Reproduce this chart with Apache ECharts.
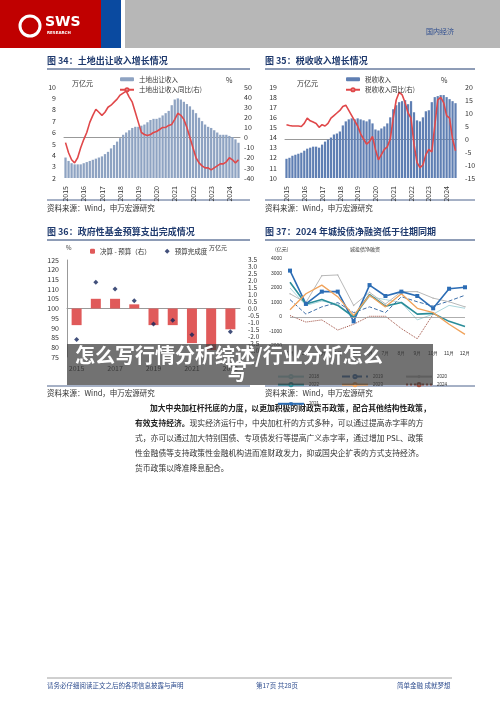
<!DOCTYPE html>
<html><head><meta charset="utf-8">
<script src="https://cdn.jsdelivr.net/npm/echarts@6/dist/echarts.min.js"></script>
<style>html,body{margin:0;padding:0;background:#fff}#c{width:500px;height:706px}</style>
</head><body><div id="c"></div>
<script>
// ---------- data ----------
const yrs = ['2015','2016','2017','2018','2019','2020','2021','2022','2023','2024'];
const landRevenue = [3.8,3.5,3.3,3.2,3.2,3.2, 3.3,3.4,3.5,3.6,3.7,3.8, 3.9,4.1,4.3,4.6,4.9,5.2, 5.5,5.8,6.0,6.2,6.4,6.5, 6.5,6.6,6.7,6.9,7.1,7.2, 7.2,7.3,7.5,7.7,7.9,8.4, 8.9,9.0,8.9,8.7,8.5,8.3, 8.0,7.7,7.3,7.0,6.7,6.5, 6.4,6.2,6.0,5.8,5.8,5.8, 5.7,5.6,5.4,5.1];
const landYoY = [-5,-15,-22,-25,-20,-10, -2,5,15,22,28,25, 22,25,30,32,35,38, 42,44,46,40,35,25, 15,5,3,2,3,5, 6,8,10,10,12,13, 18,24,22,18,10,0, -10,-20,-25,-28,-30,-30, -32,-30,-28,-26,-26,-24, -20,-22,-25,-22];
const taxRevenue = [11.9,12.0,12.2,12.3,12.4,12.5, 12.7,12.9,13.0,13.1,13.1,13.0, 13.3,13.6,13.8,14.0,14.3,14.4, 14.6,15.2,15.6,15.8,15.9,15.8, 15.9,15.8,15.7,15.6,15.8,15.4, 14.8,14.7,14.9,15.1,15.4,16.0, 16.8,17.2,17.5,17.6,17.7,17.3, 17.6,16.5,15.7,15.6,16.0,16.6, 16.7,17.5,18.0,18.1,18.2,18.2, 18.0,17.8,17.6,17.4];
const taxYoY = [5.5,5.2,5,5,5,4.8, 6,8,7,6.5,6,4.5, 5.5,5,6,8,9,10, 11,12.5,13,11,9,7, 5,2,0,-2,-1,1, -4,-8,-6,-4,-3,0, 8,15,18,17,14,10, 8,-2,-9,-11,-10,-6, -4,-5,5,15,16,14, 9,8,0,-4.5];
const fundYears = ['2015','2016','2017','2018','2019','2020','2021','2022','2023'];
const fundDiff = [-1.2,0.7,0.7,0.3,-1.2,-1.2,-2.5,-3.0,-1.5];
const fundRate = [84,113.5,110,104,92,94,86.5,80,88];
const months = ['1月','2月','3月','4月','5月','6月','7月','8月','9月','10月','11月','12月'];
const ct2018 = [2000,800,1100,900,0,1400,1200,1000,-200,200,800,600];
const ct2019 = [1200,200,700,1000,300,700,300,1400,1050,750,1100,1500];
const ct2020 = [1600,1000,2850,2900,800,1700,900,1750,1750,1300,1050,700];
const ct2021 = [3200,900,1750,1750,-300,2200,1450,1750,1450,600,1950,2050];
const ct2022 = [2400,900,1200,800,0,1550,750,1000,200,250,-300,-650];
const ct2023 = [500,1600,2200,1400,100,1500,700,1600,600,300,-500,-1200];
const ct2024 = [100,-350,-200,-900,-500,50,50,-800,-1500,200];

const monthsCat = [];
yrs.forEach(y=>{for(let m=1;m<=11;m+=2){monthsCat.push(y+'-'+m);}});
const cat58 = monthsCat.slice(0,58);

// ---------- chart ----------
const F='Noto Sans CJK SC';
const ax={fontSize:7,color:'#333',fontFamily:F};
const chart=echarts.init(document.getElementById('c'));
function T(x,y,t,o){return {type:'text',left:x,top:y,style:Object.assign({text:t,font:'7px "Noto Sans CJK SC"',fill:'#333'},o||{})};}
function title(x,y,t){return {type:'text',left:x,top:y,style:{text:t,font:'bold 9px "Noto Sans CJK SC"',fill:'#1f3a6e'}};}
function hline(x1,x2,y,c,w){return {type:'line',shape:{x1:x1,y1:y,x2:x2,y2:y},style:{stroke:c,lineWidth:w}};}
const src='资料来源：Wind，申万宏源研究';
const graphic=[
 {type:'rect',shape:{x:0,y:0,width:101,height:48},style:{fill:'#c00000'}},
 {type:'rect',shape:{x:101,y:0,width:20,height:48},style:{fill:'#0a4aa0'}},
 {type:'rect',shape:{x:125,y:0,width:375,height:48},style:{fill:'#b7b7b7'}},
 {type:'circle',shape:{cx:30,cy:26,r:10},style:{fill:'none',stroke:'#fff',lineWidth:3}},
 {type:'text',left:45,top:15,style:{text:'SWS',font:'bold 14px "DejaVu Sans"',fill:'#fff'}},
 {type:'text',left:47,top:31,style:{text:'RESEARCH',font:'bold 4px "DejaVu Sans"',fill:'#fff'}},
 T(426,28,'国内经济',{fill:'#2e4d8f',font:'7px "Noto Sans CJK SC"'}),
 title(47,56,'图 34：土地出让收入增长情况'), hline(47,250,69,'#1f3a6e',1),
 title(265,56,'图 35：税收收入增长情况'), hline(265,475,69,'#1f3a6e',1),
 hline(47,250,200,'#1f3a6e',0.8), hline(265,475,200,'#1f3a6e',0.8),
 T(47,204,src,{font:'7.5px "Noto Sans CJK SC"'}), T(265,204,src,{font:'7.5px "Noto Sans CJK SC"'}),
 T(72,80,'万亿元'), T(226,77,'%'), T(297,80,'万亿元'), T(441,77,'%'),
 title(47,227,'图 36：政府性基金预算支出完成情况'), hline(47,250,240,'#1f3a6e',1),
 title(265,227,'图 37：2024 年城投债净融资低于往期同期'), hline(265,475,240,'#1f3a6e',1),
 T(66,245,'%',{font:'6px "Noto Sans CJK SC"'}), T(209,245,'万亿元',{font:'6px "Noto Sans CJK SC"'}),
 T(275,247,'(亿元)',{font:'5px "Noto Sans CJK SC"'}), T(350,247,'城投债净融资',{font:'5px "Noto Sans CJK SC"'}),
 hline(47,250,386,'#1f3a6e',0.8), hline(265,475,386,'#1f3a6e',0.8),
 T(47,389,src,{font:'7.5px "Noto Sans CJK SC"'}), T(265,389,src,{font:'7.5px "Noto Sans CJK SC"'}),
 {type:'rect',z:100,shape:{x:67,y:344,width:366,height:41},style:{fill:'rgba(60,60,60,0.72)'}},
 {type:'text',z:101,left:75,top:345,style:{text:'怎么写行情分析综述/行业分析怎么',font:'bold 20px "Noto Sans CJK SC"',fill:'#fff'}},
 {type:'text',z:101,left:227,top:362,style:{text:'写',font:'bold 20px "Noto Sans CJK SC"',fill:'#fff'}},
 {type:'text',left:150,top:404,style:{text:'加大中央加杠杆托底的力度，以更加积极的财政货币政策，配合其他结构性政策，',font:'bold 7.8px "Noto Sans CJK SC"',fill:'#222'}},
 {type:'text',left:135,top:419,style:{rich:{b:{font:'bold 7.8px "Noto Sans CJK SC"',fill:'#222'},n:{font:'7.8px "Noto Sans CJK SC"',fill:'#333'}},text:'{b|有效支持经济。}{n|现实经济运行中，中央加杠杆的方式多种，可以通过提高赤字率的方}'}},
 T(135,434,'式，亦可以通过加大特别国债、专项债发行等提高广义赤字率，通过增加 PSL、政策',{font:'7.8px "Noto Sans CJK SC"'}),
 T(135,449,'性金融债等支持政策性金融机构进而准财政发力，抑或国央企扩表的方式支持经济。',{font:'7.8px "Noto Sans CJK SC"'}),
 T(135,464,'货币政策以降准降息配合。',{font:'7.8px "Noto Sans CJK SC"'}),
 hline(47,452,678,'#888',0.8),
 T(47,682,'请务必仔细阅读正文之后的各项信息披露与声明',{fill:'#2e4d8f',font:'6.5px "Noto Sans CJK SC"'}),
 T(256,682,'第17页 共28页',{fill:'#2e4d8f',font:'6.5px "Noto Sans CJK SC"'}),
 T(397,682,'简单金融 成就梦想',{fill:'#2e4d8f',font:'6.5px "Noto Sans CJK SC"'})
];
const yearX = (idx)=>({type:'category',data:cat58,gridIndex:idx,axisTick:{show:false},axisLine:{lineStyle:{color:'#999'}},
  axisLabel:Object.assign({},ax,{rotate:90,interval:5,formatter:v=>v.split('-')[0]})});
const yv=(g,min,max,int,pos,o)=>Object.assign({type:'value',gridIndex:g,min:min,max:max,interval:int,position:pos,splitLine:{show:false},
  axisLine:{show:false},axisTick:{show:false},axisLabel:Object.assign({},ax)},o||{});
const legendText={fontSize:6.5,fontFamily:F,color:'#333'};
const lg4={itemWidth:26,itemHeight:4,itemGap:22,textStyle:{fontSize:4.5,color:'#333'}};
chart.setOption({
 animation:false, graphic:graphic,
 legend:[
  {data:['土地出让收入','土地出让收入同比(右)'],orient:'vertical',left:114,top:71,itemWidth:14,itemHeight:4,itemGap:4,textStyle:legendText},
  {data:['税收收入','税收收入同比(右)'],orient:'vertical',left:340,top:71,itemWidth:14,itemHeight:4,itemGap:4,textStyle:legendText},
  {data:['决算 - 预算（右）','预算完成度'],left:85,top:243,itemWidth:5,itemHeight:5,itemGap:14,textStyle:legendText},
  Object.assign({data:['2018','2019','2020','2021'],left:272,top:369},lg4),
  Object.assign({data:['2022','2023','2024'],left:272,top:377},lg4)
 ],
 grid:[
  {left:64,top:87,width:176,height:91},
  {left:285,top:87,width:172,height:91},
  {left:67,top:260,width:173,height:97},
  {left:290,top:259,width:175,height:87}
 ],
 xAxis:[yearX(0),yearX(1),
  {type:'category',data:fundYears,gridIndex:2,axisTick:{show:false},axisLine:{lineStyle:{color:'#999'}},axisLabel:Object.assign({},ax,{interval:1})},
  {type:'category',data:months,gridIndex:3,boundaryGap:false,axisTick:{show:false},axisLine:{show:false,onZero:false},
   axisLabel:{fontSize:5,color:'#333',margin:5}}
 ],
 yAxis:[
  yv(0,2,10,1,'left'), yv(0,-40,50,10,'right',{axisLabel:Object.assign({},ax,{margin:4})}),
  yv(1,10,19,1,'left'), yv(1,-15,20,5,'right'),
  yv(2,75,125,5,'left',{axisLine:{show:true,lineStyle:{color:'#999'}}}),
  yv(2,-3.5,3.5,0.5,'right',{axisLabel:Object.assign({},ax,{fontSize:6.5,formatter:v=>v<-3.2?'':v.toFixed(1)})}),
  yv(3,-2000,4000,1000,'left',{axisLabel:{fontSize:5,color:'#333',formatter:v=>String(v)}})
 ],
 series:[
  {name:'土地出让收入',type:'bar',xAxisIndex:0,yAxisIndex:0,data:landRevenue,barCategoryGap:'25%',itemStyle:{color:'#8ea3c2'}},
  {name:'土地出让收入同比(右)',type:'line',xAxisIndex:0,yAxisIndex:1,data:landYoY,showSymbol:false,lineStyle:{color:'#e0484a',width:1.6},itemStyle:{color:'#e0484a'}},
  {name:'税收收入',type:'bar',xAxisIndex:1,yAxisIndex:2,data:taxRevenue,barCategoryGap:'25%',itemStyle:{color:'#5f7fb3'}},
  {name:'税收收入同比(右)',type:'line',xAxisIndex:1,yAxisIndex:3,data:taxYoY,showSymbol:false,lineStyle:{color:'#e0484a',width:1.6},itemStyle:{color:'#e0484a'}},
  {name:'决算 - 预算（右）',type:'bar',xAxisIndex:2,yAxisIndex:5,data:fundDiff,barWidth:10,itemStyle:{color:'#e05a5a'}},
  {name:'预算完成度',type:'scatter',xAxisIndex:2,yAxisIndex:4,data:fundRate,symbol:'diamond',symbolSize:5,itemStyle:{color:'#13245a'}},
  {name:'2018',type:'line',xAxisIndex:3,yAxisIndex:6,data:ct2018,showSymbol:false,lineStyle:{color:'#a9d6dc',width:1},itemStyle:{color:'#a9d6dc'},
   markLine:{silent:true,symbol:'none',label:{show:false},lineStyle:{color:'#999',width:0.8,type:'solid'},data:[{yAxis:0}]}},
  {name:'2019',type:'line',xAxisIndex:3,yAxisIndex:6,data:ct2019,showSymbol:false,lineStyle:{color:'#3d6ea8',width:1,type:'dashed'},itemStyle:{color:'#3d6ea8'}},
  {name:'2020',type:'line',xAxisIndex:3,yAxisIndex:6,data:ct2020,symbol:'circle',symbolSize:1.5,lineStyle:{color:'#b8b8b8',width:1},itemStyle:{color:'#b8b8b8'}},
  {name:'2021',type:'line',xAxisIndex:3,yAxisIndex:6,data:ct2021,symbol:'rect',symbolSize:4,lineStyle:{color:'#2c6db5',width:1.6},itemStyle:{color:'#2c6db5'}},
  {name:'2022',type:'line',xAxisIndex:3,yAxisIndex:6,data:ct2022,showSymbol:false,lineStyle:{color:'#2a8d99',width:1.6},itemStyle:{color:'#2a8d99'}},
  {name:'2023',type:'line',xAxisIndex:3,yAxisIndex:6,data:ct2023,showSymbol:false,lineStyle:{color:'#f0a25a',width:1.3},itemStyle:{color:'#f0a25a'}},
  {name:'2024',type:'line',xAxisIndex:3,yAxisIndex:6,data:ct2024,showSymbol:false,lineStyle:{color:'#9c4a3c',width:1,type:'dotted'},itemStyle:{color:'#9c4a3c'}}
 ]
});
</script></body></html>
